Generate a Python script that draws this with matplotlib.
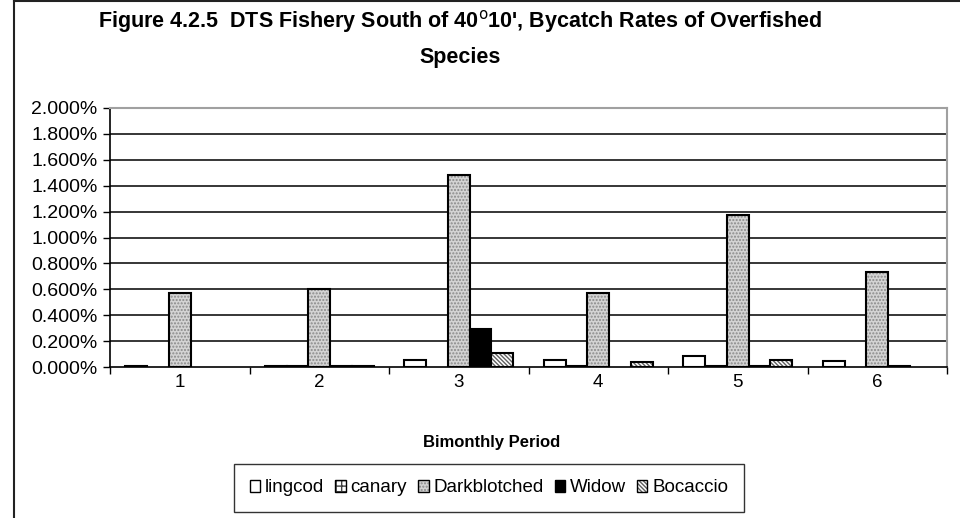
import numpy as np
import matplotlib
matplotlib.use("Agg")
import matplotlib.pyplot as plt
from matplotlib.patches import Patch
from matplotlib.lines import Line2D
from matplotlib.ticker import FixedLocator, FuncFormatter

plt.rcParams['font.family'] = ['Liberation Sans', 'DejaVu Sans']

# bycatch rates (%)
periods = ['1', '2', '3', '4', '5', '6']
species = ['lingcod', 'canary', 'Darkblotched', 'Widow', 'Bocaccio']
lingcod = [0.005, 0.005, 0.055, 0.055, 0.085, 0.045]
canary = [0.0, 0.005, 0.0, 0.005, 0.005, 0.0]
darkblotched = [0.573, 0.603, 1.48, 0.573, 1.17, 0.73]
widow = [0.0, 0.005, 0.29, 0.0, 0.005, 0.005]
bocaccio = [0.0, 0.005, 0.105, 0.036, 0.055, 0.0]
yticks = [0.0, 0.2, 0.4, 0.6, 0.8, 1.0, 1.2, 1.4, 1.6, 1.8, 2.0]

series = [lingcod, canary, darkblotched, widow, bocaccio]
# (face, hatch, hatch colour)
styles = [('white', None, 'black'),
          ('white', '+++', '#404040'),
          ('#d4d4d4', '.....', '#8a8a8a'),
          ('black', None, 'black'),
          ('white', '\\\\\\\\\\\\\\\\', '#606060')]

fig = plt.figure(figsize=(9.6, 5.18), dpi=100)
ax = fig.add_axes([110 / 960, 1 - 367 / 518, 837 / 960, 259 / 518])

w = 0.156
x = np.arange(len(periods))
handles = []
for i, (vals, (fc, hatch, hc)) in enumerate(zip(series, styles)):
    vals = np.array(vals)
    keep = vals > 0
    pos = x[keep] + (i - 2) * w
    ax.bar(pos, vals[keep], width=w, color=fc, hatch=hatch, edgecolor=hc,
           linewidth=0, zorder=3)
    ax.bar(pos, vals[keep], width=w, fill=False, edgecolor='black',
           linewidth=1.5, zorder=4)
    h1 = Patch(facecolor=fc, hatch=hatch, edgecolor=hc, linewidth=0)
    h2 = Patch(fill=False, edgecolor='black', linewidth=1.0)
    handles.append((h1, h2))

ax.set_xlim(-0.5, len(periods) - 0.5)
ax.set_ylim(0, 2.0)

for t in yticks[1:-1]:
    ax.axhline(t, color='black', linewidth=1.1, zorder=1)

ax.yaxis.set_major_locator(FixedLocator(yticks))
ax.yaxis.set_major_formatter(FuncFormatter(lambda v, p: f"{v:.3f}%"))
ax.tick_params(axis='y', direction='out', length=5, width=1, labelsize=14, pad=4)

ax.xaxis.set_major_locator(FixedLocator(np.arange(-0.5, len(periods), 1.0)))
ax.xaxis.set_minor_locator(FixedLocator(x))
ax.xaxis.set_major_formatter(FuncFormatter(lambda v, p: ''))
ax.set_xticklabels(periods, minor=True)
ax.tick_params(axis='x', which='major', direction='out', length=5, width=1)
ax.tick_params(axis='x', which='minor', length=0, labelsize=13.5, pad=5)

for s in ['left', 'bottom']:
    ax.spines[s].set_color('black')
    ax.spines[s].set_linewidth(1.2)
for s in ['top', 'right']:
    ax.spines[s].set_color('#a0a0a0')
    ax.spines[s].set_linewidth(1.5)

fig.text(460 / 960, 1 - 22 / 518, "Figure 4.2.5  DTS Fishery South of 40$^{\\mathrm{o}}$10', Bycatch Rates of Overfished",
         ha='center', va='center', fontsize=15.5, fontweight='bold')
fig.text(460 / 960, 1 - 57 / 518, "Species", ha='center', va='center',
         fontsize=15.5, fontweight='bold')
fig.text(492 / 960, 1 - 443 / 518, "Bimonthly Period", ha='center', va='center',
         fontsize=12, fontweight='bold')

leg = fig.legend(handles, species, loc='center', bbox_to_anchor=(489 / 960, 1 - 488 / 518),
                 ncol=5, fontsize=13.5, frameon=True, fancybox=False, edgecolor='black',
                 handlelength=0.55, handleheight=0.55, handletextpad=0.25,
                 columnspacing=0.6, borderpad=0.85, borderaxespad=0)
leg.get_frame().set_linewidth(1.0)

# outer chart border
fig.add_artist(Line2D([13.5 / 960, 13.5 / 960], [0, 1 - 1 / 518], transform=fig.transFigure,
                      color='#222222', linewidth=1.5))
fig.add_artist(Line2D([13.5 / 960, 1], [1 - 1 / 518, 1 - 1 / 518], transform=fig.transFigure,
                      color='#222222', linewidth=1.5))

fig.savefig('out.png', dpi=100)
